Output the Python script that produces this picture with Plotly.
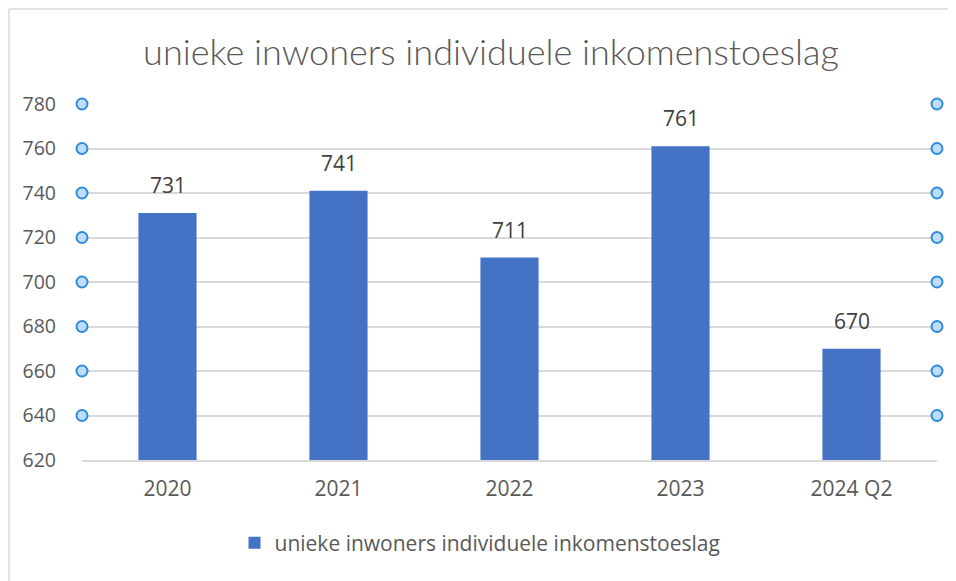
import plotly.graph_objects as go

categories = ["2020", "2021", "2022", "2023", "2024 Q2"]
values = [731, 741, 711, 761, 670]
series_name = "unieke inwoners individuele inkomenstoeslag"
title_text = "unieke inwoners individuele inkomenstoeslag"
y_ticks = [620, 640, 660, 680, 700, 720, 740, 760, 780]
handle_levels = [640, 660, 680, 700, 720, 740, 760, 780]

FONT = "'Open Sans', sans-serif"
TFONT = "Lato, sans-serif"
O = 8  # page body margin
W, H = 956 - O, 581 - O
# plot area on screen: x 82..937, y 104..460
L = 82 - O
T = 104 - O
R = W - (937 - O)
B = H - (460 - O)

fig = go.Figure()
fig.add_trace(go.Bar(
    x=categories, y=values, name=series_name,
    marker=dict(color="#4472C4", line=dict(width=0)),
    showlegend=True,
))

# selection handles at gridline levels on both sides
hx = []
hy = []
for lv in handle_levels:
    hx += [0, 1]
    hy += [lv, lv]
fig.add_trace(go.Scatter(
    x=hx, y=hy, mode="markers", xaxis="x2", yaxis="y",
    marker=dict(size=11, color="#BDDDFB", line=dict(color="#2E8BDC", width=2)),
    cliponaxis=False, showlegend=False, hoverinfo="skip",
))

# data labels above bars (x given as category index)
annotations = [
    dict(x=i, y=v, xref="x", yref="y", text=str(v), showarrow=False,
         yanchor="bottom", yshift=12,
         font=dict(family=FONT, size=21, color="#404040"))
    for i, v in enumerate(values)
]

pw = W - L - R
ph = H - T - B

def sx(px):  # screen x -> paper
    return (px - O - L) / pw

def sy(py):  # screen y -> paper
    return (H - B - (py - O)) / ph

fig.update_layout(
    width=W, height=H,
    margin=dict(l=L, r=R, t=T, b=B, pad=0, autoexpand=False),
    paper_bgcolor="white", plot_bgcolor="white",
    font=dict(family=FONT, color="#595959", size=19),
    title=dict(text=title_text, x=(491 - O) / W, xanchor="center",
               y=1 - (52 - O) / H, yanchor="middle", yref="container",
               font=dict(family=TFONT, size=36, color="#595959", weight=300)),
    bargap=0.66,
    xaxis=dict(type="category", categoryarray=categories, categoryorder="array",
               range=[-0.5, len(categories) - 0.5],
               showgrid=False, showline=True,
               linecolor="#D9D9D9", linewidth=1.5, ticks="", tickangle=0,
               tickfont=dict(family=FONT, size=21, color="#595959"),
               ticklabelstandoff=9, fixedrange=True),
    xaxis2=dict(overlaying="x", range=[0, 1], visible=False, fixedrange=True),
    yaxis=dict(range=[620, 780], tickvals=y_ticks, showgrid=True,
               gridcolor="#D9D9D9", gridwidth=1.5, zeroline=False,
               showline=False, ticks="",
               tickfont=dict(family=FONT, size=19.5, color="#595959"),
               ticklabelstandoff=25, fixedrange=True),
    legend=dict(orientation="h", x=sx(480), xanchor="center",
                y=sy(543), yanchor="middle",
                font=dict(family=FONT, size=21, color="#595959")),
    annotations=annotations,
    shapes=[
        dict(type="line", xref="paper", yref="paper",
             x0=sx(O + 1), x1=sx(956), y0=sy(O + 1), y1=sy(O + 1),
             line=dict(color="#E3E3E3", width=2)),
        dict(type="line", xref="paper", yref="paper",
             x0=sx(O + 1), x1=sx(O + 1), y0=sy(O + 1), y1=sy(581),
             line=dict(color="#E3E3E3", width=2)),
    ],
)

fig.write_html("out.html")
